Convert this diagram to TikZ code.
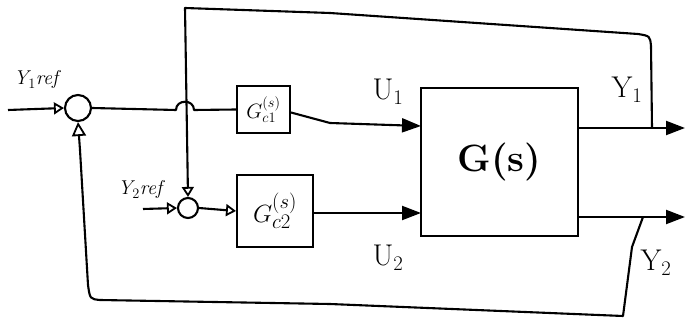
\documentclass[tikz,border=0pt]{standalone}
\usetikzlibrary{arrows.meta}
\begin{document}
\begin{tikzpicture}[x=1pt,y=-1pt,
  wire/.style={line width=2.1pt,line join=round},
  blk/.style={draw,line width=2pt,rectangle,inner sep=0pt},
  sumj/.style={draw,line width=2.1pt,circle,inner sep=0pt},
  bigarr/.style={-{Triangle[length=19pt,width=14pt]}},
  handarr/.style={-{Triangle[open,length=10pt,width=12pt,line width=1.8pt]}},
  lbl/.style={font=\fontsize{30}{30}\selectfont},
  hand/.style={font=\fontsize{20}{20}\selectfont\itshape}]
\useasboundingbox (0,0) rectangle (685,320);

% blocks
\node[blk,minimum width=157pt,minimum height=148pt] (G) at (499.5,162)
  {\fontsize{38}{38}\selectfont\bfseries G(s)};
\node[blk,minimum width=53pt,minimum height=47pt] (gc1) at (263.5,109.5)
  {\fontsize{20}{20}\selectfont $G_{c1}^{(s)}$};
\node[blk,minimum width=76pt,minimum height=72pt] (gc2) at (275,211)
  {\fontsize{28}{28}\selectfont $G_{c2}^{(s)}$};

% summing junctions
\node[sumj,minimum size=26pt] (s1) at (78,108) {};
\node[sumj,minimum size=20pt] (s2) at (188,208) {};

% free ends
\coordinate (r1) at (8,110);
\coordinate (r2) at (143,209);
\coordinate (u1) at (421,126);
\coordinate (u2) at (421,213);
\coordinate (y1o) at (578,128);
\coordinate (y2o) at (578,217);
\coordinate (o1) at (685,128);
\coordinate (o2) at (685,217);
\coordinate (t1) at (652,128);
\coordinate (t2) at (643,217);

% reference inputs
\draw[wire,handarr] (r1) -- (s1.west);
\draw[wire,handarr] (r2) -- (s2.west);

% junction outputs
\draw[wire] (s1.east) -- (176,110) .. controls (176,99) and (194,99) .. (194,110) -- (gc1.west);
\draw[wire,handarr] (s2.east) -- (gc2.west);

% controller outputs
\draw[wire,bigarr] ([yshift=-3pt]gc1.east) -- (330,123) -- (u1);
\draw[wire,bigarr] ([yshift=-2pt]gc2.east) -- (u2);

% plant outputs
\draw[wire,bigarr] (y1o) -- (o1);
\draw[wire,bigarr] (y2o) -- (o2);

% feedback Y1 -> second junction
\draw[wire,handarr] (t1) -- (651,46) .. controls (650,36) .. (638,34) -- (330,13) -- (185,8) -- (s2.north);

% feedback Y2 -> first junction
\draw[wire,-{Triangle[open,length=14pt,width=14pt,line width=1.8pt]}] (t2) -- (632,247) -- (623,316) -- (330,304) -- (100,300)
  .. controls (90,299) .. (88,285) -- (80,150) -- (s1.south);

% labels
\node[lbl] (lu1) at (388,92) {U$_1$};
\node[lbl] (lu2) at (388,258) {U$_2$};
\node[lbl] (ly1) at (627,90) {Y$_1$};
\node[lbl] (ly2) at (656,263) {Y$_2$};
\node[hand] (lr1) at (36,80) {Y$_1$ref};
\node[hand] (lr2) at (140,190) {Y$_2$ref};
\end{tikzpicture}
\end{document}
